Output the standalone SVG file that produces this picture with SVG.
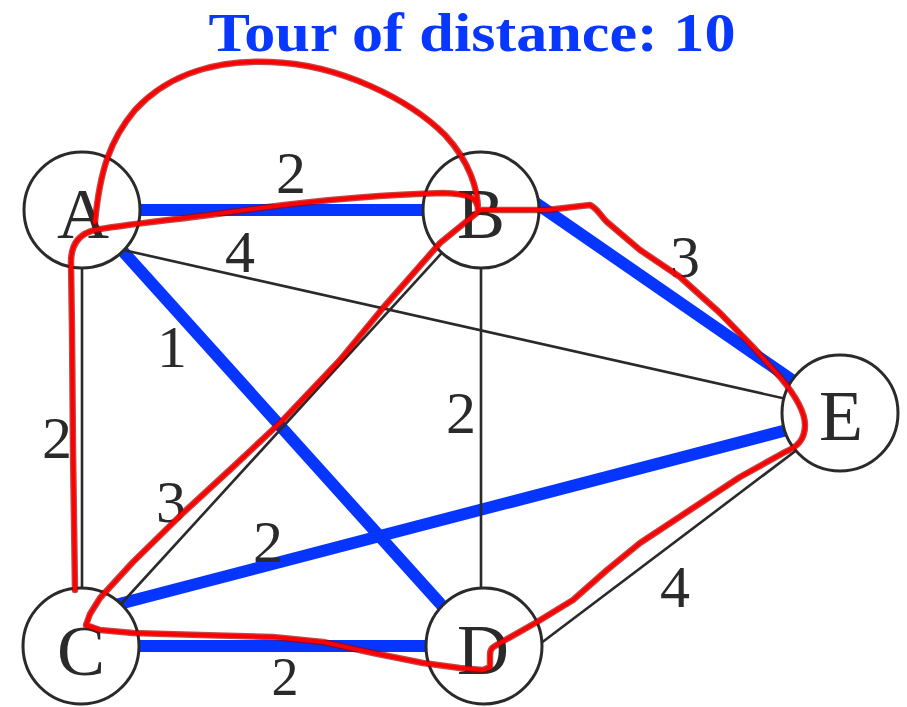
<svg xmlns="http://www.w3.org/2000/svg" width="907" height="707" viewBox="0 0 907 707">
<style>
.blue{stroke:#0535ff;stroke-width:12;fill:none}
.thin{stroke:#2a2a2a;stroke-width:2.6;fill:none}
.node circle{fill:#fff;stroke:#2a2a2a;stroke-width:3}
.lbl{font-family:"Liberation Serif","DejaVu Serif",serif;fill:#2a2a2a;text-anchor:middle}
.nl{font-size:72px}
.el{font-size:60px}
.tour-o{stroke:#a00000;stroke-width:6.5;fill:none;stroke-linejoin:round;stroke-linecap:round;opacity:0.7}
.tour{stroke:#ff0000;stroke-width:4;fill:none;stroke-linejoin:round;stroke-linecap:round}
</style>
<rect width="907" height="707" fill="#fff"/>
<text x="472" y="51" font-family="'Liberation Serif','DejaVu Serif',serif" font-weight="bold" font-size="54" fill="#0838ff" text-anchor="middle" textLength="527" lengthAdjust="spacingAndGlyphs">Tour of distance: 10</text>
<g id="edges">
<line class="blue" x1="120" y1="210" x2="450" y2="210"/>
<line class="blue" x1="110" y1="237" x2="455" y2="620"/>
<line class="blue" x1="100" y1="609" x2="810" y2="424"/>
<line class="blue" x1="110" y1="646" x2="450" y2="646"/>
<line class="blue" x1="530" y1="199" x2="805" y2="389"/>
<line class="thin" x1="110" y1="247" x2="800" y2="402"/>
<line class="thin" x1="82" y1="240" x2="82" y2="610"/>
<line class="thin" x1="481" y1="240" x2="481" y2="610"/>
<line class="thin" x1="460" y1="233" x2="100" y2="627"/>
<line class="thin" x1="520" y1="659" x2="810" y2="440"/>
</g>
<g id="A" class="node"><circle cx="82" cy="210" r="58"/><text class="lbl nl" x="83" y="238">A</text></g>
<g id="B" class="node"><circle cx="481" cy="210" r="58"/><text class="lbl nl" x="481" y="238">B</text></g>
<g id="C" class="node"><circle cx="81" cy="646" r="58"/><text class="lbl nl" x="81" y="675">C</text></g>
<g id="D" class="node"><circle cx="484" cy="646" r="58"/><text class="lbl nl" x="483" y="674">D</text></g>
<g id="E" class="node"><circle cx="840" cy="413" r="58"/><text class="lbl nl" x="841" y="440">E</text></g>
<g id="edge-labels">
<text class="lbl el" x="291" y="193">2</text>
<text class="lbl el" x="240" y="272">4</text>
<text class="lbl el" x="172" y="367">1</text>
<text class="lbl el" x="461" y="433">2</text>
<text class="lbl el" x="171" y="522">3</text>
<text class="lbl el" x="268" y="562">2</text>
<text class="lbl el" x="57" y="458">2</text>
<text class="lbl el" x="685" y="277">3</text>
<text class="lbl el" x="675" y="607">4</text>
<text class="lbl" font-size="54" x="285" y="695">2</text>
</g>
<defs>
<path id="tourpath" d="M95,222 C100,170 110,140 135,110 C170,72 220,60 270,62 C340,64 410,100 445,135 C470,162 478,190 478,210
M478,210 C478,198 470,194 443,193 C400,194 330,199 260,208 C200,217 120,225 95,230 C78,234 71,245 71,262 L72,330 L73,450 L75,590
M478,210 L547,210 L590,205 C597,208 600,215 607,222 L640,250 L680,277 L720,313 L753,347 L780,377 C795,395 805,412 805,425 C805,440 797,447 785,452 L740,477 L690,510 L640,543 L607,570 L573,600 L537,622 L500,643 C493,647 490,648 490,655 L490,667 L483,670 L460,668 L423,663 L373,653 L323,642 L273,637 L200,635 L133,633 L100,630 L86,625 L90,614 L100,598 L133,562 L183,513 L233,467 L283,420 L340,360 L383,308 L440,243 L478,212"/>
</defs>
<g id="tour">
<use href="#tourpath" class="tour-o"/>
<use href="#tourpath" class="tour"/>
</g>
</svg>
